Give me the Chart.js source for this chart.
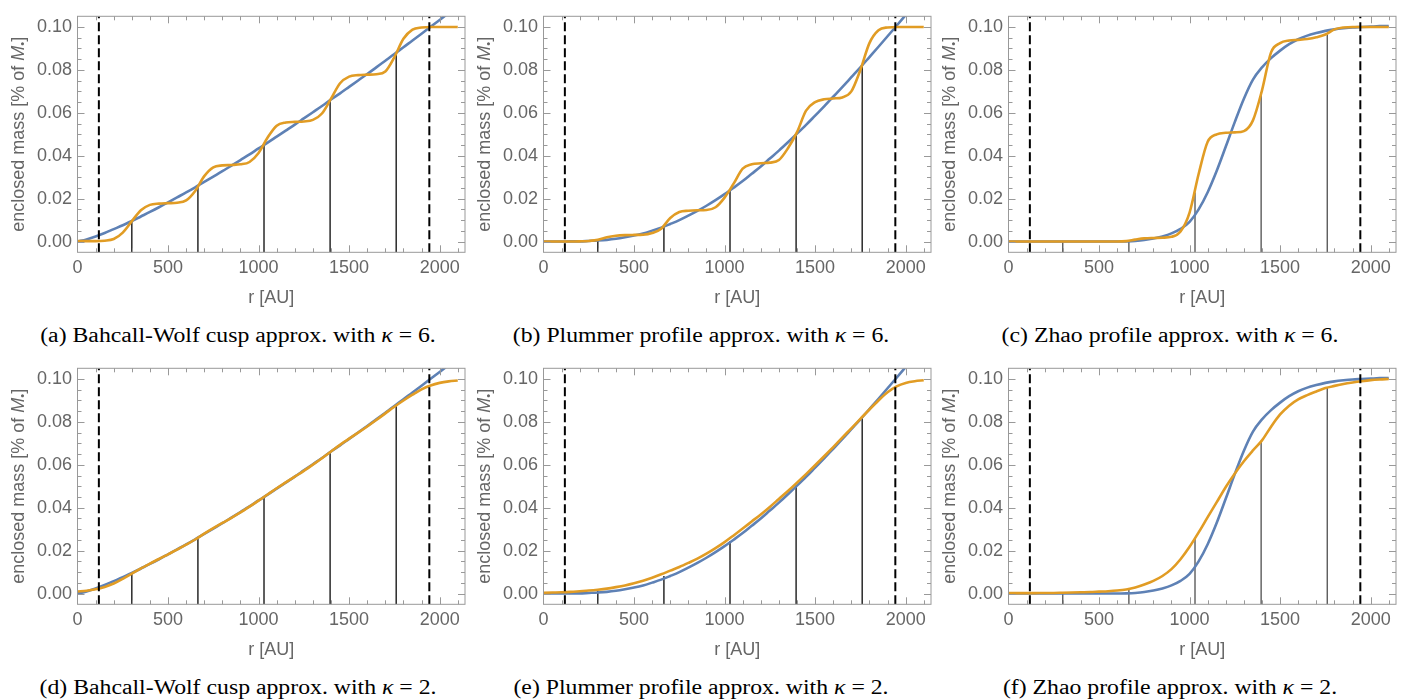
<!DOCTYPE html>
<html>
<head>
<meta charset="utf-8">
<script src="https://cdn.jsdelivr.net/npm/chart.js@4"></script>
<style>
  body { margin: 0; background: #fff; width: 1402px; height: 700px; position: relative; overflow: hidden; }
  canvas { position: absolute; }
  .caption {
    position: absolute; width: 600px; text-align: center;
    font-family: "Liberation Serif", "Times New Roman", serif;
    font-size: 21.6px; line-height: 24px; color: #000;
    transform: scaleX(1.1); white-space: nowrap;
  }
</style>
</head>
<body>
<script>
// sample radii (AU) shared by every curve
const radius = [0, 50, 100, 150, 200, 250, 300, 350, 400, 450, 500, 550, 600, 650, 700, 750, 800, 850, 900, 950,
  1000, 1050, 1100, 1150, 1200, 1250, 1300, 1350, 1400, 1450, 1500, 1550, 1600, 1650, 1700, 1750, 1800, 1850, 1900, 1950,
  2000, 2050, 2100];

// enclosed mass, Bahcall-Wolf cusp
const bwProfile = [0, 0.0010, 0.0024, 0.0040, 0.0058, 0.0076, 0.0096, 0.0117, 0.0138, 0.0160, 0.0183, 0.0206, 0.0229,
  0.0253, 0.0278, 0.0303, 0.0328, 0.0354, 0.0380, 0.0406, 0.0434, 0.0461, 0.0489, 0.0517, 0.0545, 0.0574, 0.0603,
  0.0632, 0.0662, 0.0691, 0.0721, 0.0751, 0.0781, 0.0812, 0.0843, 0.0874, 0.0906, 0.0937, 0.0969, 0.1001, 0.1033,
  0.1066, 0.1098];
const bwKappa6 = [0.0002, 0.0002, 0.0002, 0.0004, 0.0012, 0.0042, 0.0095, 0.0146, 0.0171, 0.0177, 0.0179, 0.0181,
  0.0192, 0.0236, 0.0305, 0.0346, 0.0355, 0.0357, 0.0360, 0.0371, 0.0413, 0.0485, 0.0540, 0.0555, 0.0558, 0.0560,
  0.0567, 0.0597, 0.0666, 0.0738, 0.0769, 0.0776, 0.0778, 0.0780, 0.0793, 0.0860, 0.0945, 0.0988, 0.0998, 0.1000,
  0.1000, 0.1000, 0.1000];
const bwKappa2 = [0.0010, 0.0013, 0.0020, 0.0031, 0.0047, 0.0069, 0.0093, 0.0117, 0.0140, 0.0161, 0.0183, 0.0205,
  0.0228, 0.0252, 0.0279, 0.0305, 0.0329, 0.0353, 0.0378, 0.0405, 0.0433, 0.0462, 0.0491, 0.0518, 0.0545, 0.0572,
  0.0601, 0.0631, 0.0662, 0.0693, 0.0722, 0.0750, 0.0779, 0.0809, 0.0840, 0.0871, 0.0900, 0.0927, 0.0952, 0.0970,
  0.0982, 0.0989, 0.0993];

// enclosed mass, Plummer profile
const plummerProfile = [0, 0, 0, 0.0001, 0.0001, 0.0003, 0.0005, 0.0008, 0.0013, 0.0020, 0.0028, 0.0038, 0.0051,
  0.0065, 0.0082, 0.0100, 0.0121, 0.0143, 0.0167, 0.0193, 0.0221, 0.0251, 0.0282, 0.0316, 0.0350, 0.0387, 0.0424,
  0.0463, 0.0503, 0.0544, 0.0587, 0.0630, 0.0675, 0.0720, 0.0766, 0.0812, 0.0860, 0.0908, 0.0957, 0.1006, 0.1056,
  0.1106, 0.1157];
const plummerKappa6 = [0, 0, 0, 0, 0.0001, 0.0003, 0.0008, 0.0020, 0.0027, 0.0030, 0.0031, 0.0032, 0.0040, 0.0060,
  0.0110, 0.0138, 0.0144, 0.0146, 0.0147, 0.0160, 0.0205, 0.0270, 0.0340, 0.0360, 0.0365, 0.0368, 0.0380, 0.0435,
  0.0510, 0.0610, 0.0650, 0.0663, 0.0667, 0.0672, 0.0700, 0.0800, 0.0925, 0.0985, 0.0998, 0.1000, 0.1000, 0.1000,
  0.1000];
const plummerKappa2 = [0.0004, 0.0005, 0.0006, 0.0008, 0.0011, 0.0014, 0.0018, 0.0023, 0.0030, 0.0038, 0.0048,
  0.0060, 0.0074, 0.0090, 0.0107, 0.0124, 0.0143, 0.0163, 0.0186, 0.0212, 0.0240, 0.0271, 0.0303, 0.0336, 0.0369,
  0.0404, 0.0441, 0.0478, 0.0517, 0.0557, 0.0598, 0.0640, 0.0683, 0.0727, 0.0770, 0.0814, 0.0858, 0.0900, 0.0938,
  0.0966, 0.0982, 0.0990, 0.0994];

// enclosed mass, Zhao profile
const zhaoProfile = [0, 0, 0, 0, 0, 0, 0, 0, 0, 0, 0, 0, 0, 0.0001, 0.0003, 0.0007, 0.0014, 0.0024, 0.0038, 0.0059,
  0.0092, 0.0150, 0.0230, 0.0330, 0.0443, 0.0558, 0.0666, 0.0755, 0.0812, 0.0855, 0.0890, 0.0920, 0.0943, 0.0960,
  0.0972, 0.0982, 0.0989, 0.0994, 0.0998, 0.1000, 0.1002, 0.1004, 0.1005];
const zhaoKappa6 = [0, 0, 0, 0, 0, 0, 0, 0, 0, 0, 0, 0, 0, 0.0002, 0.0009, 0.0015, 0.0017, 0.0018, 0.0022, 0.0047,
  0.0135, 0.0315, 0.0465, 0.0500, 0.0507, 0.0509, 0.0515, 0.0565, 0.0705, 0.0882, 0.0925, 0.0937, 0.0940, 0.0944,
  0.0952, 0.0965, 0.0989, 0.0998, 0.1000, 0.1000, 0.1000, 0.1000, 0.1000];
const zhaoKappa2 = [0.0002, 0.0002, 0.0002, 0.0002, 0.0003, 0.0003, 0.0004, 0.0005, 0.0006, 0.0007, 0.0009, 0.0011,
  0.0014, 0.0019, 0.0028, 0.0042, 0.0059, 0.0082, 0.0114, 0.0160, 0.0218, 0.0285, 0.0356, 0.0426, 0.0497, 0.0560,
  0.0617, 0.0667, 0.0714, 0.0778, 0.0835, 0.0876, 0.0905, 0.0925, 0.0942, 0.0958, 0.0968, 0.0977, 0.0984, 0.0990,
  0.0995, 0.0998, 0.1000];

// inner/outer boundary and shell centres
const boundRadii = [118, 1943];
const shellRadii = [300, 665, 1030, 1395, 1760];
const bwShells6 = [0.0095, 0.0256, 0.0451, 0.0660, 0.0883];
const bwShells2 = [0.0092, 0.0258, 0.0452, 0.0662, 0.0881];
const plummerShells6 = [0.0008, 0.0071, 0.0236, 0.0497, 0.0820];
const plummerShells2 = [0.0012, 0.0082, 0.0245, 0.0505, 0.0822];
const zhaoShells6 = [0.0000, 0.0005, 0.0229, 0.0696, 0.0965];
const zhaoShells2 = [0.0005, 0.0025, 0.0260, 0.0708, 0.0960];

const xTicks = [0, 500, 1000, 1500, 2000];
const yTicks = [0, 0.02, 0.04, 0.06, 0.08, 0.10];

const panels = [
  { profile: bwProfile, approx: bwKappa6, shells: bwShells6, thin: false,
    caption: '(a) Bahcall-Wolf cusp approx. with <i>κ</i> = 6.', cx: 238 },
  { profile: plummerProfile, approx: plummerKappa6, shells: plummerShells6, thin: false,
    caption: '(b) Plummer profile approx. with <i>κ</i> = 6.', cx: 701 },
  { profile: zhaoProfile, approx: zhaoKappa6, shells: zhaoShells6, thin: true,
    caption: '(c) Zhao profile approx. with <i>κ</i> = 6.', cx: 1170 },
  { profile: bwProfile, approx: bwKappa2, shells: bwShells2, thin: false,
    caption: '(d) Bahcall-Wolf cusp approx. with <i>κ</i> = 2.', cx: 238 },
  { profile: plummerProfile, approx: plummerKappa2, shells: plummerShells2, thin: false,
    caption: '(e) Plummer profile approx. with <i>κ</i> = 2.', cx: 701 },
  { profile: zhaoProfile, approx: zhaoKappa2, shells: zhaoShells2, thin: true,
    caption: '(f) Zhao profile approx. with <i>κ</i> = 2.', cx: 1170 },
];

const sans = '"Liberation Sans", Arial, sans-serif';
const grey = '#666';
const frameColor = '#999';
const Y_MIN = -0.005, Y_MAX = 0.105;

// frame with inward ticks on all four sides
const framePlugin = {
  id: 'frame',
  afterDraw(chart) {
    const { ctx, chartArea: a, scales: { x, y } } = chart;
    ctx.save();
    ctx.strokeStyle = frameColor;
    ctx.lineWidth = 1;
    ctx.strokeRect(a.left, a.top, a.right - a.left, a.bottom - a.top);
    ctx.beginPath();
    for (let v = 100; v <= 2100; v += 100) {
      const px = Math.round(x.getPixelForValue(v)) + 0.5;
      const len = v % 500 === 0 ? 7 : 4;
      ctx.moveTo(px, a.bottom); ctx.lineTo(px, a.bottom - len);
      ctx.moveTo(px, a.top); ctx.lineTo(px, a.top + len);
    }
    for (let i = 0; i <= 20; i++) {
      const py = Math.round(y.getPixelForValue(i * 0.005)) + 0.5;
      const len = i % 4 === 0 ? 7 : 4;
      ctx.moveTo(a.left, py); ctx.lineTo(a.left + len, py);
      ctx.moveTo(a.right, py); ctx.lineTo(a.right - len, py);
    }
    ctx.stroke();
    ctx.restore();
  }
};

// rotated y title with italic M and subscript bullet
const yTitlePlugin = {
  id: 'yTitle',
  afterDraw(chart) {
    const { ctx, chartArea: a } = chart;
    const parts = [
      { t: 'enclosed mass [% of ', f: `18px ${sans}`, dy: 0 },
      { t: 'M', f: `italic 18px ${sans}`, dy: 0 },
      { t: '•', f: `11px ${sans}`, dy: 4 },
      { t: ']', f: `18px ${sans}`, dy: 0 },
    ];
    ctx.save();
    let total = 0;
    parts.forEach(p => { ctx.font = p.f; p.w = ctx.measureText(p.t).width; total += p.w; });
    ctx.translate(a.left - 58.5, (a.top + a.bottom) / 2);
    ctx.rotate(-Math.PI / 2);
    ctx.fillStyle = grey;
    ctx.textBaseline = 'middle';
    let pos = -total / 2;
    parts.forEach(p => { ctx.font = p.f; ctx.fillText(p.t, pos, p.dy); pos += p.w; });
    ctx.restore();
  }
};

panels.forEach((p, i) => {
  const col = i % 3, row = Math.floor(i / 3);
  const canvas = document.createElement('canvas');
  canvas.width = 466; canvas.height = 320;
  canvas.style.left = [0, 466, 931][col] + 'px';
  canvas.style.top = (row * 352) + 'px';
  document.body.appendChild(canvas);

  const cap = document.createElement('div');
  cap.className = 'caption';
  cap.innerHTML = p.caption;
  cap.style.left = (p.cx - 300) + 'px';
  cap.style.top = (row === 0 ? 322.5 : 674.5) + 'px';
  document.body.appendChild(cap);

  const datasets = [];
  boundRadii.forEach(r => datasets.push({
    data: [{ x: r, y: Y_MIN }, { x: r, y: Y_MAX }],
    borderColor: '#000', borderWidth: 2, borderDash: [9, 4], order: 0
  }));
  datasets.push({
    data: radius.map((r, k) => ({ x: r, y: p.approx[k] })),
    borderColor: '#E19C24', borderWidth: 2.6, cubicInterpolationMode: 'monotone', order: 1
  });
  datasets.push({
    data: radius.map((r, k) => ({ x: r, y: p.profile[k] })),
    borderColor: '#5E81B5', borderWidth: 2.6, cubicInterpolationMode: 'monotone', order: 2
  });
  shellRadii.forEach((r, k) => datasets.push({
    data: [{ x: r, y: Y_MIN }, { x: r, y: p.shells[k] }],
    borderColor: '#1a1a1a', borderWidth: p.thin ? 1 : 1.4, order: 3
  }));

  new Chart(canvas, {
    type: 'line',
    data: { datasets },
    options: {
      responsive: false,
      animation: false,
      devicePixelRatio: 1,
      layout: { padding: { top: 12.7, right: 1, left: 0, bottom: 0 } },
      elements: { point: { radius: 0 } },
      plugins: { legend: { display: false }, tooltip: { enabled: false } },
      scales: {
        x: {
          type: 'linear', min: 0, max: 2140,
          grid: { display: false, drawTicks: false }, border: { display: false },
          afterBuildTicks: s => { s.ticks = xTicks.map(v => ({ value: v })); },
          afterFit: s => { s.height = 67.7; },
          ticks: { color: grey, font: { family: sans, size: 18 }, padding: 4.5, maxRotation: 0, autoSkip: false,
                   callback: v => String(v) },
          title: { display: true, text: 'r [AU]', color: grey, font: { family: sans, size: 18 }, padding: { top: 0, bottom: 11.5 } }
        },
        y: {
          type: 'linear', min: Y_MIN, max: Y_MAX,
          grid: { display: false, drawTicks: false }, border: { display: false },
          afterBuildTicks: s => { s.ticks = yTicks.map(v => ({ value: v })); },
          afterFit: s => { s.width = 77.5; },
          ticks: { color: grey, font: { family: sans, size: 18 }, padding: 5.5, autoSkip: false,
                   callback: v => v.toFixed(2) }
        }
      }
    },
    plugins: [framePlugin, yTitlePlugin]
  });
});
</script>
</body>
</html>
